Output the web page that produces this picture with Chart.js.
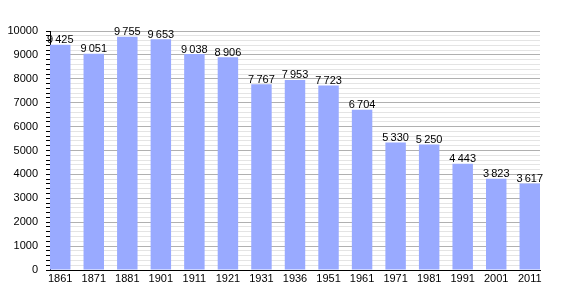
<!DOCTYPE html>
<html><head><meta charset="utf-8">
<script src="https://cdn.jsdelivr.net/npm/chart.js@4/dist/chart.umd.min.js"></script>
<style>html,body{margin:0;padding:0;background:#fff}#wrap{width:570px;height:300px}</style>
</head><body><div id="wrap"><canvas id="c" width="570" height="300"></canvas></div>
<script>
const years = ['1861','1871','1881','1901','1911','1921','1931','1936','1951','1961','1971','1981','1991','2001','2011'];
const population = [9425,9051,9755,9653,9038,8906,7767,7953,7723,6704,5330,5250,4443,3823,3617];
const yTickLabels = [0,1000,2000,3000,4000,5000,6000,7000,8000,9000,10000];

const FONT = 'Liberation Sans, Arial, sans-serif';
const half = 0.305;
const fmt = v => String(v).replace(/\B(?=(\d{3})+(?!\d))/g, '\u2009');

const labelPlugin = {
  id: 'vals',
  afterDatasetsDraw(chart) {
    const ctx = chart.ctx;
    const meta = chart.getDatasetMeta(0);
    ctx.save();
    ctx.font = '11px ' + FONT;
    ctx.fillStyle = '#000';
    ctx.textAlign = 'center';
    ctx.textBaseline = 'bottom';
    meta.data.forEach((bar, i) => {
      ctx.fillText(fmt(population[i]), bar.x, bar.y + 1);
    });
    ctx.restore();
  }
};

new Chart(document.getElementById('c'), {
  type: 'bar',
  data: {
    datasets: [{
      data: population.map((v, i) => ({x: i, y: v})),
      backgroundColor: '#99aaff',
      borderWidth: 0,
      categoryPercentage: 1,
      barPercentage: 2 * half
    }]
  },
  options: {
    responsive: false,
    animation: false,
    layout: {padding: {top: 31, right: 30, left: 0, bottom: 0}},
    plugins: {legend: {display: false}, tooltip: {enabled: false}},
    scales: {
      x: {
        type: 'linear',
        offset: false,
        min: -half,
        max: years.length - 1 + half,
        grid: {display: false, offset: false, drawTicks: false},
        border: {display: true, color: '#000', width: 1},
        afterBuildTicks: s => { s.ticks = years.map((_, i) => ({value: i})); },
        ticks: {
          autoSkip: false,
          maxRotation: 0,
          padding: 2,
          color: '#000',
          font: {family: FONT, size: 11},
          callback: v => years[v]
        },
        afterFit: s => { s.height = 30; }
      },
      y: {
        min: 0,
        max: 10000,
        grid: {
          color: c => (c.tick && c.tick.value % 1000 === 0) ? '#b0b0b0' : '#e4e4e4',
          tickColor: '#000',
          tickLength: 4,
          lineWidth: 1
        },
        border: {display: true, color: '#000', width: 1},
        ticks: {
          stepSize: 200,
          autoSkip: false,
          padding: 8,
          color: '#000',
          font: {family: FONT, size: 11},
          callback: v => yTickLabels.includes(v) ? String(v) : ''
        },
        afterFit: s => { s.width = 50; }
      }
    }
  },
  plugins: [labelPlugin]
});
</script>
</body></html>
